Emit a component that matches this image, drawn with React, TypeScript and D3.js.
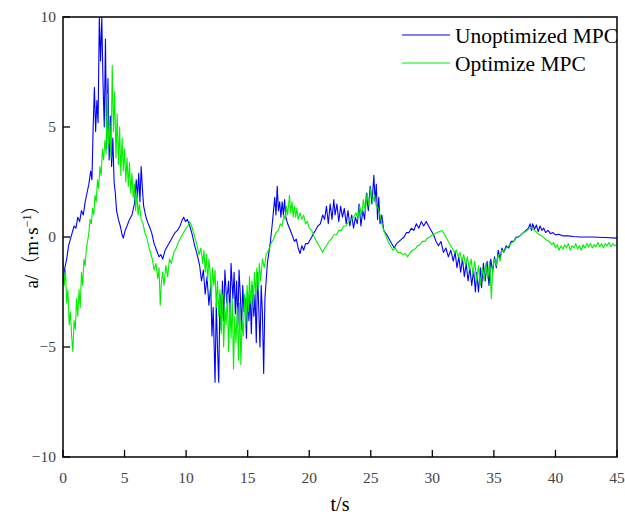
import React from "react";
import * as d3 from "d3";

const xTicks = [0, 5, 10, 15, 20, 25, 30, 35, 40, 45];
const yTicks = [-10, -5, 0, 5, 10];
const seriesNames = ["Unoptimized MPC", "Optimize MPC"];
const seriesColors = ["#0000ff", "#00f000"];

const unoptimized: [number, number][] = [[0,-2.1],[0.15,-1.4],[0.3,-1.0],[0.45,-0.4],[0.6,-0.1],[0.75,0.2],[0.9,0.5],[1.05,0.4],[1.2,0.9],[1.35,0.7],[1.5,1.2],[1.65,1.0],[1.8,1.6],[1.95,2.0],[2.1,2.4],[2.25,3.0],[2.35,2.6],[2.45,5.0],[2.55,6.8],[2.65,4.8],[2.75,6.2],[2.85,5.2],[2.95,10],[3.05,8.0],[3.15,10],[3.25,7.0],[3.35,5.0],[3.45,9.0],[3.55,4.0],[3.65,7.2],[3.75,3.5],[3.85,5.5],[3.95,3.2],[4.05,4.5],[4.15,2.5],[4.25,2.0],[4.35,1.2],[4.5,0.8],[4.65,0.5],[4.8,0.1],[4.9,-0.05],[5.05,0.3],[5.2,0.5],[5.4,0.8],[5.6,1.0],[5.8,1.5],[5.95,2.6],[6.05,1.8],[6.15,2.9],[6.25,1.6],[6.35,3.2],[6.45,2.2],[6.55,1.4],[6.7,1.0],[6.85,0.7],[7.0,0.5],[7.2,0.2],[7.4,-0.3],[7.6,-0.6],[7.8,-0.9],[7.95,-0.8],[8.1,-1.0],[8.3,-0.6],[8.5,-0.4],[8.7,-0.2],[8.9,0.0],[9.1,0.2],[9.3,0.3],[9.5,0.5],[9.7,0.8],[9.8,0.9],[9.95,0.7],[10.1,0.8],[10.3,0.5],[10.5,0.1],[10.7,-0.4],[10.9,-0.8],[11.1,-1.3],[11.25,-2.0],[11.4,-1.5],[11.55,-2.6],[11.7,-1.8],[11.85,-3.1],[12.0,-2.2],[12.1,-4.5],[12.2,-3.2],[12.35,-6.6],[12.45,-3.0],[12.55,-5.0],[12.65,-6.6],[12.75,-2.6],[12.85,-4.2],[12.95,-2.0],[13.05,-3.8],[13.15,-1.5],[13.3,-3.0],[13.45,-2.0],[13.55,-3.6],[13.65,-1.2],[13.8,-2.8],[13.9,-1.6],[14.0,-3.5],[14.1,-2.0],[14.2,-4.0],[14.3,-1.5],[14.4,-2.6],[14.5,-4.2],[14.6,-2.2],[14.7,-3.4],[14.8,-2.8],[14.9,-4.6],[15.0,-2.5],[15.1,-3.8],[15.2,-2.6],[15.3,-4.4],[15.4,-2.2],[15.5,-3.6],[15.6,-2.6],[15.7,-4.8],[15.8,-1.6],[15.9,-3.2],[16.0,-5.0],[16.1,-2.2],[16.2,-3.5],[16.3,-6.2],[16.4,-2.8],[16.5,-2.0],[16.6,-1.2],[16.7,-0.8],[16.85,-0.2],[17.0,0.6],[17.1,1.2],[17.2,1.8],[17.3,1.0],[17.4,2.3],[17.5,1.2],[17.6,1.6],[17.7,0.9],[17.8,1.6],[17.9,1.0],[18.0,1.7],[18.1,0.9],[18.25,0.6],[18.4,0.4],[18.6,0.1],[18.8,-0.2],[18.95,-0.1],[19.1,-0.5],[19.25,-0.75],[19.4,-0.4],[19.55,-0.6],[19.7,-0.3],[19.9,-0.3],[20.1,-0.1],[20.3,0.1],[20.5,0.3],[20.7,0.5],[20.9,0.6],[21.1,1.0],[21.25,0.8],[21.4,1.4],[21.55,0.6],[21.7,1.5],[21.85,0.8],[22.0,1.7],[22.1,1.0],[22.25,1.5],[22.4,0.7],[22.55,1.4],[22.7,0.9],[22.85,1.3],[23.0,0.6],[23.15,1.2],[23.3,0.5],[23.45,1.0],[23.6,0.4],[23.75,0.9],[23.9,0.6],[24.05,1.5],[24.2,0.5],[24.35,1.2],[24.5,0.8],[24.65,2.0],[24.8,1.2],[24.95,2.3],[25.1,1.5],[25.25,2.8],[25.35,1.6],[25.45,2.4],[25.55,0.8],[25.65,1.8],[25.75,0.6],[25.9,1.0],[26.05,0.3],[26.3,0.1],[26.6,-0.2],[26.9,-0.5],[27.1,-0.3],[27.3,-0.2],[27.5,-0.1],[27.7,0.0],[27.9,0.2],[28.1,0.2],[28.3,0.4],[28.5,0.3],[28.7,0.6],[28.9,0.4],[29.1,0.7],[29.3,0.5],[29.5,0.7],[29.7,0.5],[29.9,0.3],[30.1,0.1],[30.3,-0.2],[30.5,-0.4],[30.7,-0.2],[30.9,-0.7],[31.1,-0.5],[31.3,-0.9],[31.5,-0.6],[31.7,-1.1],[31.85,-0.7],[32.0,-1.4],[32.15,-0.9],[32.3,-1.6],[32.45,-1.0],[32.6,-1.8],[32.75,-1.2],[32.9,-2.0],[33.05,-1.4],[33.2,-2.2],[33.35,-1.5],[33.5,-2.5],[33.6,-1.6],[33.75,-2.5],[33.9,-1.4],[34.0,-2.3],[34.15,-1.2],[34.3,-2.0],[34.45,-1.1],[34.6,-2.2],[34.75,-1.0],[34.9,-1.6],[35.05,-0.9],[35.2,-1.4],[35.35,-0.6],[35.5,-1.0],[35.65,-0.5],[35.8,-0.7],[36.0,-0.4],[36.2,-0.5],[36.4,-0.2],[36.6,-0.2],[36.8,0.0],[37.0,0.0],[37.2,0.1],[37.4,0.2],[37.6,0.3],[37.8,0.4],[37.95,0.6],[38.05,0.3],[38.15,0.6],[38.3,0.35],[38.45,0.55],[38.6,0.25],[38.75,0.5],[38.9,0.3],[39.05,0.4],[39.2,0.2],[39.4,0.3],[39.6,0.15],[39.8,0.2],[40.0,0.1],[40.3,0.12],[40.6,0.05],[41.0,0.05],[41.5,0.02],[42,0.0],[43,0.0],[44,-0.02],[45,-0.05]];

const optimized: [number, number][] = [[0,-1.0],[0.1,-2.2],[0.2,-1.5],[0.3,-3.0],[0.4,-2.4],[0.5,-4.0],[0.6,-3.4],[0.7,-4.5],[0.8,-5.2],[0.9,-3.8],[1.0,-4.2],[1.1,-2.8],[1.2,-3.6],[1.3,-2.4],[1.4,-3.2],[1.5,-1.6],[1.6,-2.2],[1.7,-1.0],[1.8,-1.3],[1.9,-0.5],[2.0,-0.2],[2.1,0.2],[2.2,0.8],[2.3,0.6],[2.4,1.3],[2.5,1.0],[2.6,1.9],[2.7,1.6],[2.8,2.6],[2.9,2.2],[3.0,3.2],[3.1,2.8],[3.2,4.0],[3.3,3.5],[3.4,4.4],[3.5,3.8],[3.6,6.5],[3.7,4.2],[3.8,5.2],[3.9,3.6],[4.0,7.8],[4.1,4.8],[4.2,6.6],[4.3,3.6],[4.4,5.6],[4.5,3.3],[4.6,5.0],[4.7,2.8],[4.8,4.5],[4.9,3.0],[5.0,4.0],[5.1,2.5],[5.2,3.6],[5.3,2.3],[5.4,3.4],[5.5,2.0],[5.6,2.9],[5.7,1.8],[5.8,2.4],[5.9,1.2],[6.0,2.0],[6.1,1.0],[6.2,1.5],[6.35,0.8],[6.5,0.6],[6.65,0.2],[6.8,0.0],[6.95,-0.4],[7.1,-0.7],[7.25,-1.0],[7.4,-1.5],[7.55,-1.2],[7.7,-1.9],[7.8,-1.4],[7.9,-3.1],[8.0,-2.0],[8.1,-1.6],[8.2,-2.2],[8.35,-1.3],[8.5,-1.8],[8.65,-1.0],[8.8,-1.2],[9.0,-0.7],[9.2,-0.5],[9.4,-0.2],[9.6,0.0],[9.8,0.2],[10.0,0.4],[10.15,0.5],[10.3,0.7],[10.45,0.5],[10.6,0.2],[10.75,-0.1],[10.9,-0.4],[11.05,-0.8],[11.2,-0.5],[11.35,-1.2],[11.45,-0.6],[11.55,-1.6],[11.65,-0.8],[11.75,-2.0],[11.85,-1.0],[11.95,-1.6],[12.05,-2.8],[12.15,-1.4],[12.25,-2.2],[12.35,-1.5],[12.45,-3.2],[12.55,-2.0],[12.65,-3.6],[12.75,-2.4],[12.85,-4.4],[12.95,-2.6],[13.05,-5.0],[13.15,-3.2],[13.25,-4.0],[13.35,-2.6],[13.45,-5.2],[13.55,-3.0],[13.65,-4.6],[13.75,-2.8],[13.85,-6.0],[13.95,-3.6],[14.05,-4.8],[14.15,-3.2],[14.25,-5.6],[14.35,-3.0],[14.45,-5.8],[14.55,-3.8],[14.65,-4.5],[14.75,-2.6],[14.85,-4.0],[14.95,-2.2],[15.05,-3.4],[15.15,-1.8],[15.25,-3.0],[15.35,-2.0],[15.45,-3.2],[15.55,-1.6],[15.65,-2.6],[15.75,-1.4],[15.85,-2.4],[15.95,-1.2],[16.05,-2.0],[16.2,-1.0],[16.35,-1.4],[16.5,-0.8],[16.7,-0.6],[16.9,-0.3],[17.1,-0.1],[17.3,0.2],[17.5,0.3],[17.65,0.6],[17.8,0.5],[17.95,1.0],[18.05,0.8],[18.15,1.4],[18.25,1.0],[18.4,1.9],[18.5,1.1],[18.6,1.6],[18.7,0.9],[18.8,1.4],[18.9,0.9],[19.0,1.3],[19.1,0.8],[19.25,1.1],[19.4,0.8],[19.55,1.0],[19.7,0.6],[19.85,0.7],[20.0,0.4],[20.2,0.3],[20.4,0.0],[20.6,-0.2],[20.8,-0.4],[21.0,-0.6],[21.1,-0.7],[21.25,-0.5],[21.4,-0.4],[21.6,-0.2],[21.8,-0.1],[22.0,0.1],[22.2,0.1],[22.4,0.3],[22.6,0.3],[22.8,0.5],[23.0,0.5],[23.2,0.7],[23.4,0.8],[23.6,0.9],[23.8,1.1],[23.95,0.8],[24.1,1.4],[24.25,1.0],[24.4,1.7],[24.55,1.2],[24.7,2.0],[24.85,1.4],[25.0,2.2],[25.15,1.6],[25.3,1.9],[25.45,1.4],[25.6,1.3],[25.75,1.0],[25.9,0.6],[26.05,0.3],[26.2,0.1],[26.4,-0.2],[26.6,-0.4],[26.8,-0.6],[27.0,-0.5],[27.2,-0.7],[27.4,-0.7],[27.6,-0.8],[27.8,-0.75],[28.0,-0.9],[28.2,-0.7],[28.4,-0.6],[28.6,-0.55],[28.8,-0.4],[29.0,-0.35],[29.2,-0.2],[29.4,-0.2],[29.6,-0.05],[29.8,0.0],[30.0,0.1],[30.2,0.15],[30.4,0.2],[30.6,0.25],[30.8,0.3],[31.0,0.1],[31.2,-0.1],[31.4,-0.3],[31.6,-0.5],[31.8,-0.7],[31.95,-0.6],[32.1,-0.9],[32.25,-0.7],[32.4,-1.1],[32.55,-0.8],[32.7,-1.3],[32.85,-0.9],[33.0,-1.5],[33.15,-1.0],[33.3,-1.7],[33.45,-1.1],[33.6,-2.0],[33.75,-1.3],[33.9,-2.2],[34.05,-1.4],[34.2,-2.0],[34.35,-1.2],[34.5,-1.9],[34.65,-1.1],[34.8,-2.8],[34.9,-1.4],[35.05,-1.0],[35.2,-1.3],[35.35,-0.8],[35.5,-1.1],[35.65,-0.6],[35.8,-0.7],[36.0,-0.5],[36.2,-0.4],[36.4,-0.3],[36.6,-0.2],[36.8,-0.05],[37.0,0.0],[37.2,0.1],[37.4,0.2],[37.6,0.25],[37.8,0.35],[38.0,0.45],[38.15,0.35],[38.3,0.3],[38.5,0.2],[38.7,0.1],[38.9,0.05],[39.1,-0.05],[39.3,-0.15],[39.5,-0.2],[39.7,-0.35],[39.85,-0.25],[40.0,-0.5],[40.15,-0.35],[40.3,-0.6],[40.45,-0.4],[40.6,-0.55],[40.75,-0.35],[40.9,-0.5],[41.05,-0.3],[41.2,-0.6],[41.35,-0.4],[41.5,-0.5],[41.65,-0.3],[41.8,-0.55],[41.95,-0.4],[42.1,-0.6],[42.25,-0.35],[42.4,-0.5],[42.55,-0.3],[42.7,-0.45],[42.85,-0.3],[43.0,-0.5],[43.15,-0.35],[43.3,-0.45],[43.45,-0.25],[43.6,-0.45],[43.75,-0.3],[43.9,-0.5],[44.05,-0.3],[44.2,-0.4],[44.35,-0.25],[44.5,-0.45],[44.65,-0.3],[44.8,-0.4],[45,-0.35]];

const W = 625, H = 519;
const M = { left: 63, top: 17, right: 617, bottom: 457 };
const tickFont = "'Liberation Serif', 'DejaVu Serif', serif";
const textFont = "'Liberation Serif', 'Times New Roman', serif";
const cjkFont = "'Noto Sans CJK SC', sans-serif";

export default function App() {
  const x = d3.scaleLinear().domain([0, 45]).range([M.left, M.right]);
  const y = d3.scaleLinear().domain([-10, 10]).range([M.bottom, M.top]);
  const line = d3.line<[number, number]>().x(d => x(d[0])).y(d => y(d[1]));
  const series = [unoptimized, optimized];
  const fmt = (v: number) => (v < 0 ? "\u2212" + Math.abs(v) : String(v));

  return (
    <svg width={W} height={H} style={{ position: "absolute", left: 0, top: 0, background: "#fff" }}>
      <defs>
        <clipPath id="plot">
          <rect x={M.left} y={M.top} width={M.right - M.left} height={M.bottom - M.top} />
        </clipPath>
      </defs>
      <rect x={0} y={0} width={W} height={H} fill="#fff" />
      <g clipPath="url(#plot)">
        {series.map((s, i) => (
          <path key={i} d={line(s) || ""} fill="none" stroke={seriesColors[i]} strokeWidth={1.1} strokeLinejoin="round" />
        ))}
      </g>
      <rect x={M.left} y={M.top} width={M.right - M.left} height={M.bottom - M.top} fill="none" stroke="#000" strokeWidth={1.5} />
      {xTicks.map(t => (
        <g key={"x" + t}>
          <line x1={x(t)} x2={x(t)} y1={M.bottom} y2={M.bottom - 7} stroke="#000" strokeWidth={1.3} />
          <text x={x(t)} y={483} textAnchor="middle" fontFamily={tickFont} fontSize={15.5} fill="#444">{fmt(t)}</text>
        </g>
      ))}
      {yTicks.map(t => (
        <g key={"y" + t}>
          <line x1={M.left} x2={M.left + 7} y1={y(t)} y2={y(t)} stroke="#000" strokeWidth={1.3} />
          <text x={56} y={y(t) + 5} textAnchor="end" fontFamily={tickFont} fontSize={15.5} fill="#444">{fmt(t)}</text>
        </g>
      ))}
      <text x={340} y={511} textAnchor="middle" fontFamily={textFont} fontSize={20} fill="#000">t/s</text>
      <text transform={`translate(38,242) rotate(-90)`} textAnchor="middle" fontFamily={textFont} fontSize={19} fill="#000">
        a/<tspan fontFamily={cjkFont} fontWeight={300}>（</tspan>m·s<tspan dy={-7} fontSize={12}>−1</tspan><tspan dy={7} fontFamily={cjkFont} fontWeight={300}>）</tspan>
      </text>
      {seriesNames.map((n, i) => (
        <g key={n}>
          <line x1={402} x2={450} y1={35 + i * 28} y2={35 + i * 28} stroke={seriesColors[i]} strokeWidth={1.2} />
          <text x={455} y={43 + i * 28} fontFamily={textFont} fontSize={21.5} fill="#000">{n}</text>
        </g>
      ))}
    </svg>
  );
}
